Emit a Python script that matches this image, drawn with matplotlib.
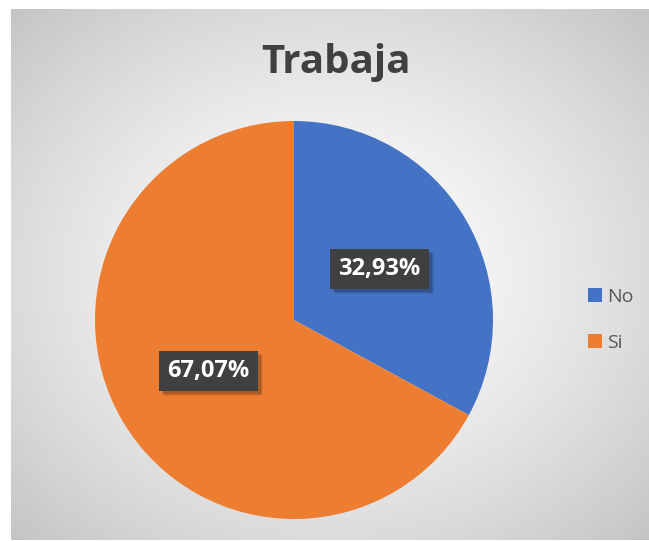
import numpy as np
import matplotlib
matplotlib.use("Agg")
import matplotlib.pyplot as plt
from matplotlib.patches import Rectangle
from matplotlib.transforms import IdentityTransform

categories = ["No", "Si"]
values = [32.93, 67.07]
colors = ["#4472C4", "#ED7D31"]
title = "Trabaja"

W, H = 649, 541
fig = plt.figure(figsize=(W / 100, H / 100), dpi=100)
fig.patch.set_facecolor("white")

# background frame with radial gradient
x0, y0, x1, y1 = 11, 9, 649, 540
bg = fig.add_axes([x0 / W, 1 - y1 / H, (x1 - x0) / W, (y1 - y0) / H])
bg.set_axis_off()
ny, nx = 300, 360
yy, xx = np.mgrid[-1:1:ny * 1j, -1:1:nx * 1j]
r = np.sqrt(xx ** 2 + yy ** 2) / np.sqrt(2)
val = 1.0 - 0.23 * np.clip(r, 0, 1) ** 1.4
img = np.dstack([val, val, val])
bg.imshow(img, extent=[0, 1, 0, 1], aspect="auto", interpolation="bilinear")
bg.set_xlim(0, 1)
bg.set_ylim(0, 1)

# title
fig.text(336 / W, 1 - 62 / H, title, ha="center", va="center",
         fontsize=29, fontweight="bold", color="#404040", family="Open Sans")

# pie
cx, cy, rad = 294, 320, 199
ax = fig.add_axes([(cx - rad) / W, 1 - (cy + rad) / H, 2 * rad / W, 2 * rad / H])
ax.set_axis_off()
wedges, texts, autotexts = ax.pie(
    values, colors=colors, startangle=90, counterclock=False, radius=1,
    autopct=lambda p: f"{p:.2f}%".replace(".", ","), pctdistance=0.5,
    wedgeprops=dict(linewidth=0))
ax.set_xlim(-1, 1)
ax.set_ylim(-1, 1)
ax.set_aspect("equal")

for t in autotexts:
    t.set_family("Open Sans")
    t.set_fontsize(17)
    t.set_fontweight("bold")
    t.set_color("white")
    t.set_bbox(dict(boxstyle="square,pad=0.35", fc="#404040", ec="none"))
    t.set_zorder(5)

# legend
leg = fig.legend(wedges, categories, loc="center left",
                 bbox_to_anchor=(570 / W, 1 - 320 / H), frameon=False,
                 prop=dict(family="Open Sans", size=14), labelcolor="#595959",
                 handlelength=0.75, handleheight=0.75, handletextpad=0.25,
                 labelspacing=1.45)

# soft shadows behind the label boxes
fig.canvas.draw()
for t in autotexts:
    bb = t.get_bbox_patch().get_window_extent()
    for k, a in [(5, 0.06), (4, 0.1), (3, 0.15)]:
        p = Rectangle((bb.x0 + k, bb.y0 - k), bb.width, bb.height,
                      transform=IdentityTransform(), fc=(0, 0, 0, a), ec="none",
                      zorder=4)
        p.set_clip_on(False)
        ax.add_artist(p)

fig.savefig("out.png", dpi=100)
